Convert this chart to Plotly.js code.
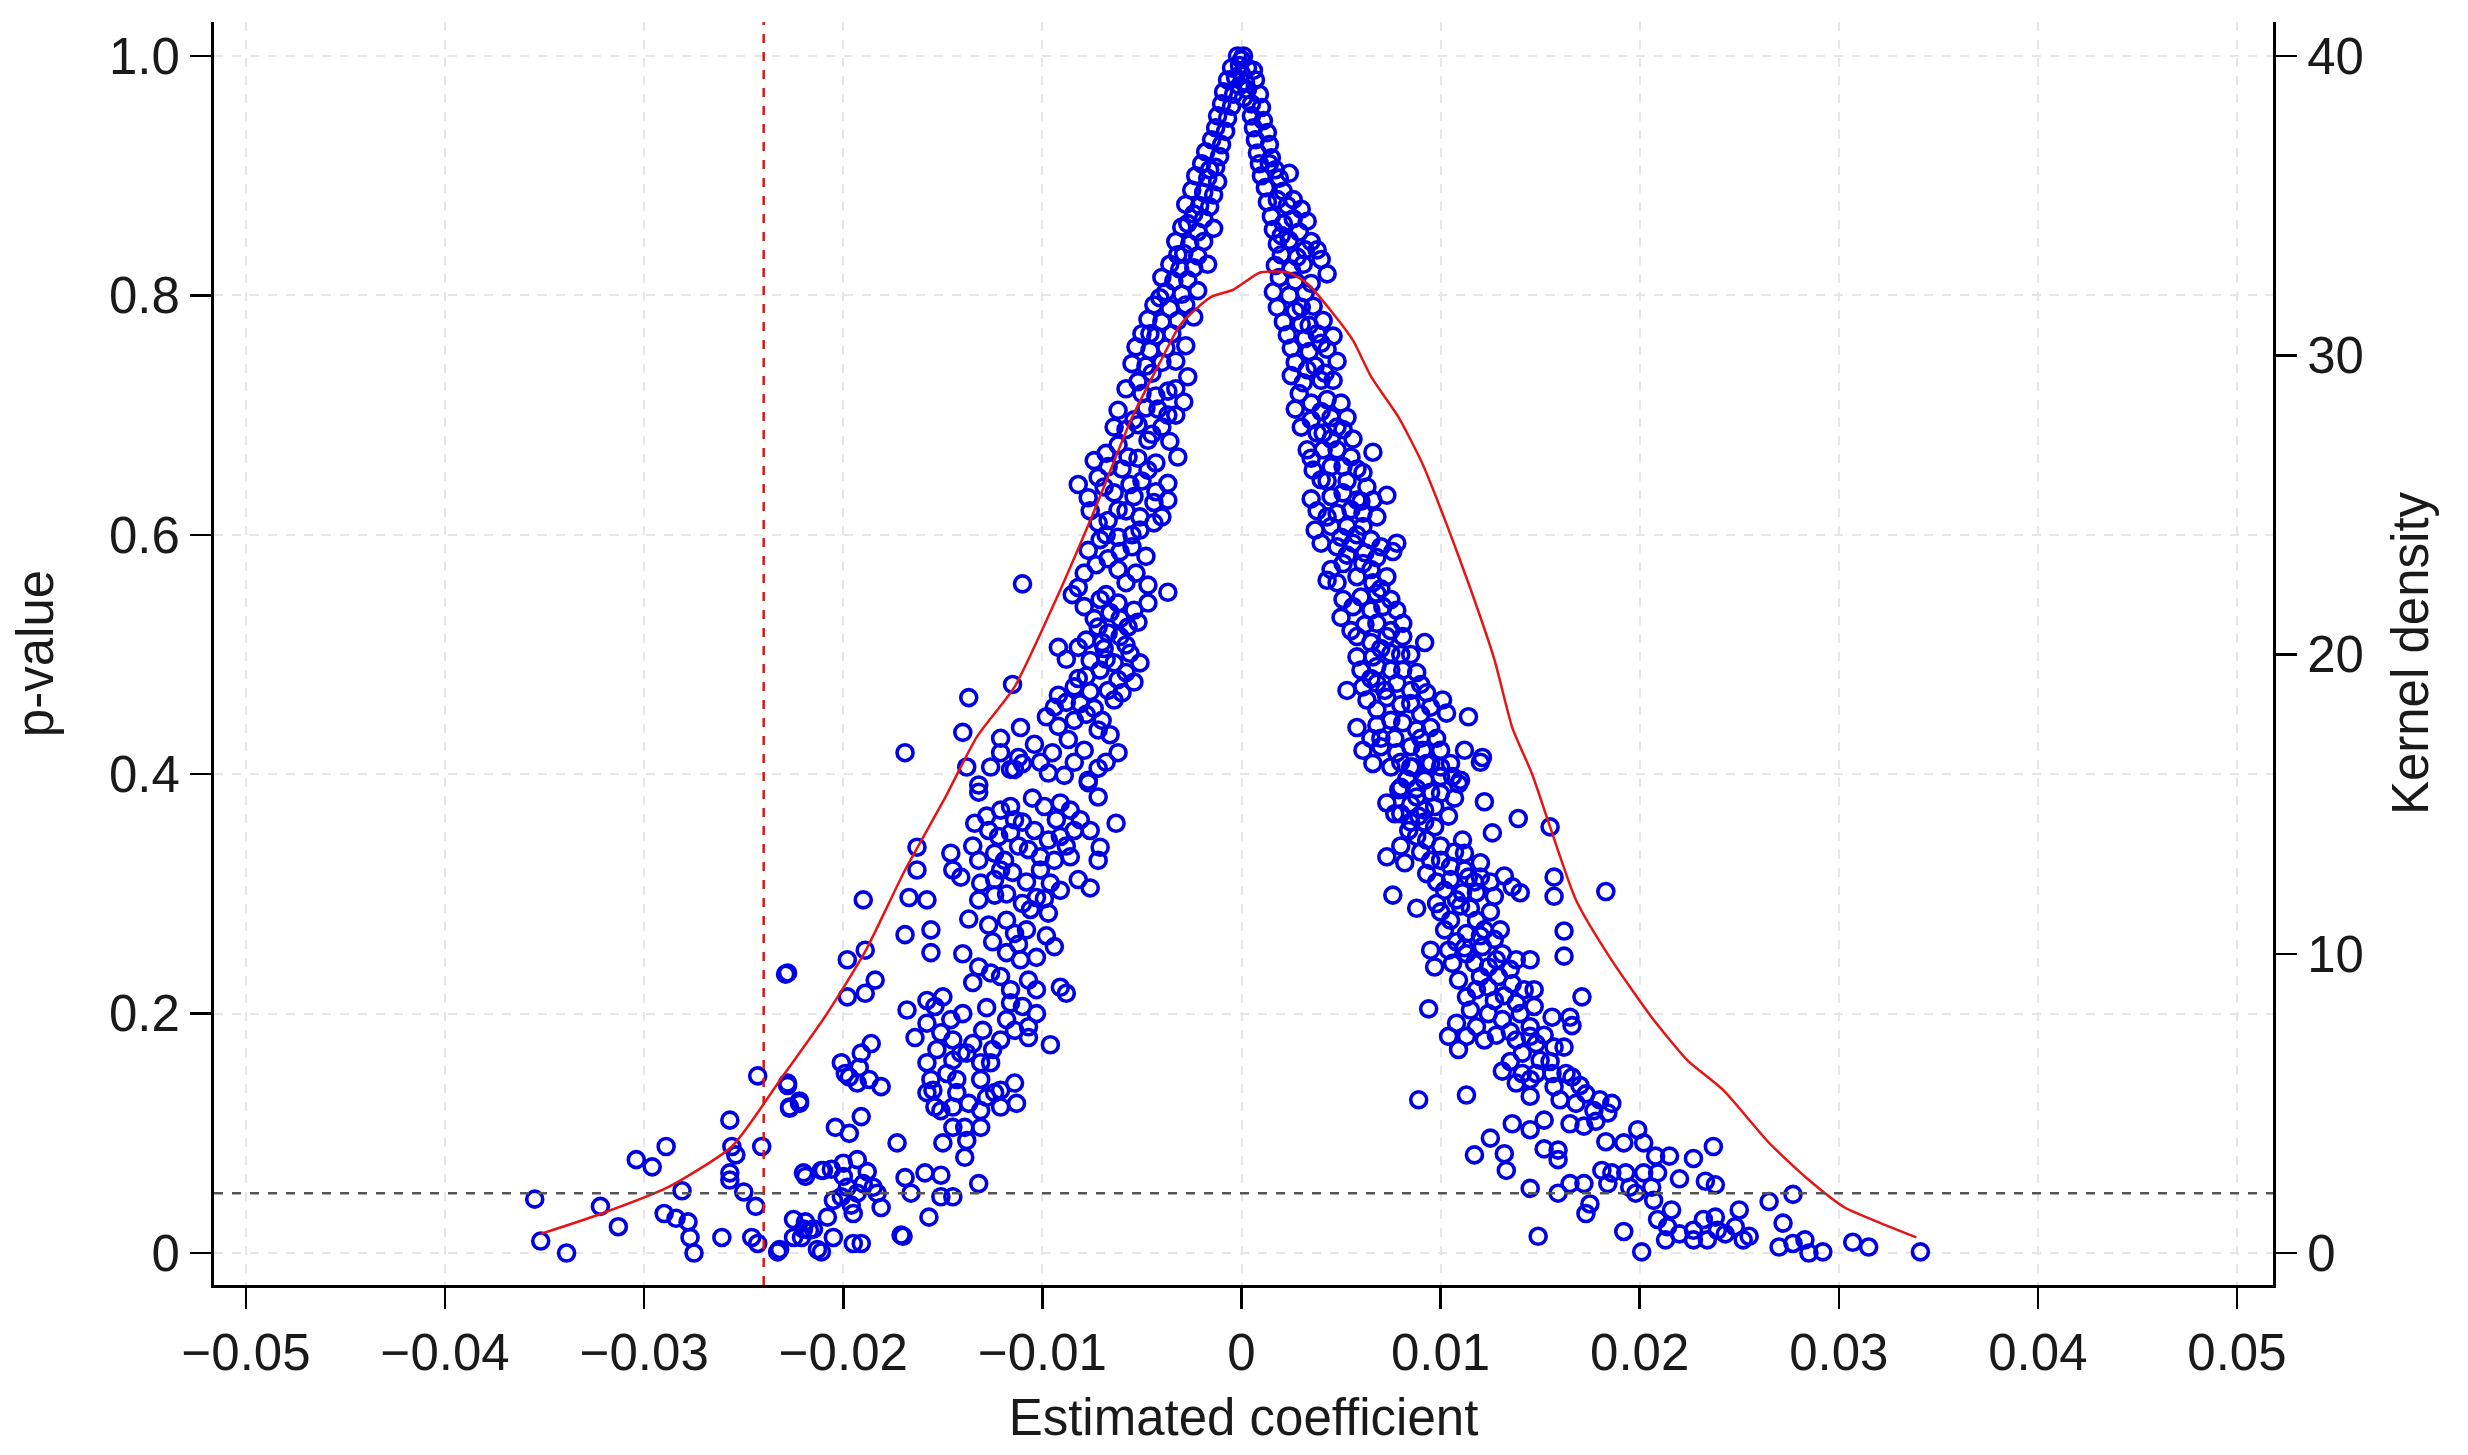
<!DOCTYPE html>
<html>
<head>
<meta charset="utf-8">
<script src="https://cdn.plot.ly/plotly-3.0.1.min.js"></script>
<style>
  html, body { margin: 0; padding: 0; background: #fff; }
  #myDiv { width: 2468px; height: 1455px; }
</style>
</head>
<body>
<div id="myDiv"></div>
<script>
// estimated coefficient / p-value pairs
let peakPoints = [
  [-0.0002, 1.0], [0.0001, 1.0], [0.0000, 0.997], [0.0000, 0.985], [-0.0001, 0.975], [0.0001, 0.965],
  [-0.0005, 0.99], [-0.0001, 0.992], [0.0003, 0.99], [0.0006, 0.988],
  [-0.0007, 0.98], [-0.0003, 0.982], [0.0002, 0.978], [0.0007, 0.98],
  [-0.0009, 0.97], [-0.0004, 0.968], [0.0003, 0.972], [0.0009, 0.968],
  [-0.0010, 0.96], [-0.0005, 0.958], [0.0005, 0.96], [0.0010, 0.957],
  [-0.0012, 0.95], [-0.0007, 0.948], [0.0005, 0.95], [0.0011, 0.946],
  [-0.0013, 0.94], [-0.0008, 0.937], [0.0006, 0.94], [0.0013, 0.936],
  [-0.0015, 0.93], [-0.0010, 0.926], [0.0007, 0.93], [0.0014, 0.926],
  [-0.0018, 0.92], [-0.0011, 0.916], [0.0008, 0.919], [0.0015, 0.915],
  [-0.0020, 0.91], [-0.0013, 0.907], [0.0009, 0.91], [0.0017, 0.905],
  [-0.0023, 0.90], [-0.0017, 0.898], [-0.0012, 0.895], [0.0010, 0.9], [0.0019, 0.898], [0.0024, 0.902],
  [-0.0025, 0.888], [-0.0019, 0.886], [-0.0014, 0.884], [0.0012, 0.89], [0.0021, 0.887], [0.0026, 0.88],
  [-0.0028, 0.876], [-0.0016, 0.874], [0.0013, 0.878], [0.0023, 0.875], [0.0030, 0.872],
  [-0.0024, 0.868], [-0.0019, 0.864], [0.0015, 0.866], [0.0026, 0.864], [0.0033, 0.862],
  [-0.0030, 0.857], [-0.0022, 0.853], [-0.0014, 0.856], [0.0016, 0.855], [0.0020, 0.85], [0.0029, 0.853],
  [-0.0033, 0.845], [-0.0026, 0.843], [-0.0019, 0.845], [0.0018, 0.843], [0.0024, 0.846], [0.0035, 0.845],
  [-0.0029, 0.835], [-0.0022, 0.833], [0.0020, 0.834], [0.0028, 0.832], [0.0038, 0.838],
  [-0.0036, 0.826], [-0.0031, 0.822], [-0.0024, 0.823], [-0.0017, 0.826], [0.0017, 0.825], [0.0025, 0.822], [0.0031, 0.826],
  [-0.0040, 0.815], [-0.0034, 0.812], [-0.0027, 0.813], [0.0019, 0.815], [0.0027, 0.812], [0.0035, 0.81], [0.0043, 0.818],
  [-0.0038, 0.803], [-0.0030, 0.801], [-0.0022, 0.804], [0.0016, 0.803], [0.0024, 0.8], [0.0032, 0.802],
  [-0.0044, 0.792], [-0.0036, 0.789], [-0.0028, 0.792], [0.0018, 0.79], [0.0027, 0.787], [0.0036, 0.791],
  [-0.0047, 0.78], [-0.0040, 0.778], [-0.0032, 0.779], [-0.0024, 0.782], [0.0021, 0.778], [0.0030, 0.776], [0.0041, 0.779],
  [-0.0050, 0.768], [-0.0043, 0.766], [-0.0035, 0.768], [0.0023, 0.767], [0.0032, 0.764], [0.0038, 0.768], [0.0046, 0.766],
  [-0.0053, 0.757], [-0.0046, 0.754], [-0.0038, 0.756], [-0.0028, 0.758], [0.0025, 0.756], [0.0034, 0.753], [0.0043, 0.755],
  [-0.0055, 0.743], [-0.0048, 0.741], [-0.0040, 0.744], [-0.0033, 0.745], [0.0027, 0.744], [0.0037, 0.741], [0.0048, 0.745],
  [-0.0016, 0.905], [-0.0021, 0.875], [-0.0027, 0.86], [-0.0032, 0.834], [-0.0041, 0.798], [-0.0046, 0.768],
  [0.0014, 0.91], [0.0018, 0.88], [0.0021, 0.86], [0.0032, 0.838], [0.0040, 0.83], [0.0030, 0.79],
  [0.0034, 0.775], [0.0040, 0.76]
];

let leftPoints = [
  [-0.0052, 0.728], [-0.0027, 0.732], [-0.0029, 0.711], [-0.0037, 0.72], [-0.0037, 0.70], [-0.0062, 0.704],
  [-0.0054, 0.696], [-0.0062, 0.675], [-0.0047, 0.679], [-0.0032, 0.665], [-0.0074, 0.662], [-0.0067, 0.657],
  [-0.0082, 0.642], [-0.0077, 0.631], [-0.0047, 0.654], [-0.0037, 0.643], [-0.0064, 0.635], [-0.0054, 0.632],
  [-0.0044, 0.627], [-0.0051, 0.615], [-0.0062, 0.621], [-0.0037, 0.629], [-0.0044, 0.61], [-0.0051, 0.604],
  [-0.0072, 0.61], [-0.0077, 0.587], [-0.0071, 0.596], [-0.0061, 0.586], [-0.0062, 0.571], [-0.0079, 0.568],
  [-0.0082, 0.556], [-0.0110, 0.559], [-0.0047, 0.558], [-0.0037, 0.552], [-0.0071, 0.546], [-0.0062, 0.543],
  [-0.0079, 0.54], [-0.0054, 0.537], [-0.0047, 0.543], [-0.0061, 0.53], [-0.0072, 0.523], [-0.0052, 0.527],
  [-0.0067, 0.518], [-0.0061, 0.515], [-0.0092, 0.506], [-0.0082, 0.506], [-0.0069, 0.505], [-0.0056, 0.501],
  [-0.0076, 0.495], [-0.0064, 0.493], [-0.0051, 0.493], [-0.0071, 0.487], [-0.0062, 0.479], [-0.0054, 0.477],
  [-0.0067, 0.47], [-0.0064, 0.462], [-0.0115, 0.475], [-0.0137, 0.464], [-0.0092, 0.466], [-0.0084, 0.473],
  [-0.0076, 0.469], [-0.0094, 0.456], [-0.0081, 0.459], [-0.0084, 0.445], [-0.0140, 0.435], [-0.0111, 0.439],
  [-0.0121, 0.43], [-0.0072, 0.437], [-0.0066, 0.433], [-0.0087, 0.429], [-0.0079, 0.42], [-0.0062, 0.418],
  [-0.0121, 0.418], [-0.0112, 0.414], [-0.0114, 0.404], [-0.0126, 0.406], [-0.0138, 0.406], [-0.0169, 0.418],
  [-0.0097, 0.401], [-0.0089, 0.399], [-0.0077, 0.395], [-0.0132, 0.391],
  [-0.0043, 0.716], [-0.0033, 0.722], [-0.0048, 0.706], [-0.0040, 0.69], [-0.0058, 0.688], [-0.0057, 0.665],
  [-0.0050, 0.645], [-0.0069, 0.64], [-0.0058, 0.62], [-0.0068, 0.6], [-0.0055, 0.59], [-0.0058, 0.56],
  [-0.0068, 0.55], [-0.0058, 0.508], [-0.0070, 0.51], [-0.0082, 0.48], [-0.0058, 0.485], [-0.0074, 0.455],
  [-0.0070, 0.445], [-0.0101, 0.41], [-0.0068, 0.41],
  [-0.0045, 0.735], [-0.0058, 0.722], [-0.0050, 0.718], [-0.0042, 0.705], [-0.0033, 0.70], [-0.0052, 0.692],
  [-0.0045, 0.684], [-0.0036, 0.678], [-0.0064, 0.69], [-0.0068, 0.668], [-0.0052, 0.664], [-0.0043, 0.66],
  [-0.0060, 0.655], [-0.0072, 0.648], [-0.0056, 0.642], [-0.0043, 0.636], [-0.0076, 0.62], [-0.0067, 0.612],
  [-0.0040, 0.615], [-0.0055, 0.60], [-0.0062, 0.598], [-0.0048, 0.582], [-0.0067, 0.58], [-0.0073, 0.575],
  [-0.0053, 0.568], [-0.0085, 0.55], [-0.0066, 0.535], [-0.0074, 0.53], [-0.0057, 0.523], [-0.0078, 0.512],
  [-0.0088, 0.496], [-0.0068, 0.496], [-0.0060, 0.468], [-0.0078, 0.482], [-0.0088, 0.46], [-0.0098, 0.448],
  [-0.0078, 0.45], [-0.0092, 0.44], [-0.0104, 0.425], [-0.0095, 0.418], [-0.0084, 0.41], [-0.0072, 0.405]
];

let leftLowPoints = [
  [-0.0116, 0.404], [-0.0110, 0.409], [-0.0132, 0.385], [-0.0077, 0.393], [-0.0072, 0.381], [-0.0116, 0.373],
  [-0.0121, 0.37], [-0.0114, 0.362], [-0.0099, 0.373], [-0.0091, 0.376], [-0.0086, 0.37], [-0.0081, 0.362],
  [-0.0076, 0.353], [-0.0063, 0.359], [-0.0134, 0.359], [-0.0127, 0.353], [-0.0122, 0.348], [-0.0116, 0.351],
  [-0.0104, 0.353], [-0.0097, 0.345], [-0.0091, 0.348], [-0.0084, 0.353], [-0.0071, 0.339], [-0.0072, 0.328],
  [-0.0163, 0.339], [-0.0163, 0.32], [-0.0146, 0.334], [-0.0145, 0.32], [-0.0132, 0.328], [-0.0124, 0.334],
  [-0.0119, 0.328], [-0.0107, 0.337], [-0.0101, 0.331], [-0.0094, 0.328], [-0.0086, 0.331], [-0.0141, 0.314],
  [-0.0131, 0.309], [-0.0124, 0.312], [-0.0121, 0.32], [-0.0101, 0.32], [-0.0096, 0.309], [-0.0091, 0.303],
  [-0.0082, 0.312], [-0.0076, 0.305], [-0.0124, 0.299], [-0.0190, 0.295], [-0.0167, 0.297], [-0.0158, 0.295],
  [-0.0110, 0.292], [-0.0103, 0.297], [-0.0097, 0.284], [-0.0106, 0.287], [-0.0137, 0.279], [-0.0127, 0.274],
  [-0.0118, 0.278], [-0.0114, 0.267], [-0.0169, 0.266], [-0.0156, 0.27], [-0.0156, 0.251], [-0.0189, 0.253],
  [-0.0198, 0.245], [-0.0228, 0.234], [-0.0184, 0.228], [-0.0189, 0.217], [-0.0198, 0.214], [-0.0132, 0.239],
  [-0.0126, 0.234], [-0.0118, 0.251], [-0.0111, 0.245], [-0.0103, 0.247], [-0.0094, 0.256], [-0.0135, 0.226],
  [-0.0121, 0.231], [-0.0116, 0.22], [-0.0107, 0.228], [-0.0103, 0.22], [-0.0091, 0.222], [-0.0088, 0.217],
  [-0.0116, 0.209], [-0.0110, 0.206], [-0.0103, 0.2], [-0.0150, 0.214], [-0.0168, 0.203], [-0.0158, 0.211],
  [-0.0154, 0.206], [-0.0158, 0.192], [-0.0164, 0.18], [-0.0130, 0.186], [-0.0121, 0.178], [-0.0114, 0.186],
  [-0.0107, 0.189], [-0.0107, 0.18], [-0.0096, 0.174], [-0.0151, 0.184], [-0.0146, 0.195], [-0.0153, 0.17],
  [-0.0141, 0.167], [-0.0138, 0.167], [-0.0131, 0.159], [-0.0126, 0.159], [-0.0145, 0.161], [-0.0186, 0.175],
  [-0.0191, 0.167], [-0.0201, 0.159], [-0.0197, 0.147], [-0.0193, 0.142], [-0.0187, 0.145], [-0.0181, 0.139],
  [-0.0199, 0.15], [-0.0228, 0.142], [-0.0227, 0.122], [-0.0222, 0.125], [-0.0158, 0.159], [-0.0156, 0.145],
  [-0.0158, 0.134], [-0.0155, 0.136], [-0.0154, 0.122], [-0.0151, 0.119], [-0.0145, 0.122], [-0.0143, 0.134],
  [-0.0143, 0.145], [-0.0131, 0.145], [-0.0124, 0.134], [-0.0121, 0.136], [-0.0114, 0.142], [-0.0113, 0.125],
  [-0.0121, 0.122], [-0.0131, 0.119], [-0.0131, 0.105], [-0.0145, 0.105], [-0.0139, 0.105], [-0.0138, 0.094],
  [-0.0150, 0.092], [-0.0139, 0.08], [-0.0204, 0.105], [-0.0197, 0.1], [-0.0191, 0.114], [-0.0173, 0.092],
  [-0.0220, 0.067], [-0.0210, 0.069], [-0.0200, 0.075], [-0.0193, 0.078], [-0.0200, 0.064], [-0.0198, 0.055],
  [-0.0190, 0.058], [-0.0185, 0.055], [-0.0201, 0.047], [-0.0193, 0.05], [-0.0183, 0.05], [-0.0181, 0.038],
  [-0.0195, 0.033], [-0.0205, 0.044], [-0.0169, 0.063], [-0.0159, 0.067], [-0.0151, 0.065], [-0.0166, 0.05],
  [-0.0151, 0.047], [-0.0145, 0.047], [-0.0132, 0.058], [-0.0157, 0.03], [-0.0171, 0.015],
  [-0.0225, 0.028], [-0.0225, 0.013], [-0.0217, 0.019], [-0.0213, 0.003], [-0.0205, 0.013], [-0.0195, 0.008],
  [-0.0191, 0.008], [-0.0232, 0.003],
  [-0.0355, 0.045], [-0.0352, 0.01], [-0.0339, 0.0], [-0.0322, 0.039], [-0.0313, 0.022], [-0.0304, 0.078],
  [-0.0296, 0.072], [-0.0289, 0.089], [-0.0290, 0.033], [-0.0284, 0.029], [-0.0281, 0.052], [-0.0278, 0.026],
  [-0.0277, 0.013], [-0.0275, 0.0], [-0.0261, 0.013], [-0.0257, 0.111], [-0.0257, 0.067], [-0.0257, 0.061],
  [-0.0254, 0.082], [-0.0256, 0.089], [-0.0250, 0.051], [-0.0246, 0.013], [-0.0244, 0.039], [-0.0243, 0.008],
  [-0.0243, 0.148], [-0.0241, 0.089], [-0.0233, 0.001], [-0.0229, 0.233], [-0.0228, 0.14], [-0.0227, 0.121],
  [-0.0222, 0.127], [-0.0221, 0.013], [-0.0219, 0.026], [-0.0215, 0.02], [-0.0211, 0.001], [-0.0219, 0.064],
  [-0.0211, 0.069], [-0.0170, 0.014],
  [-0.0105, 0.38], [-0.0093, 0.362], [-0.0110, 0.36], [-0.0128, 0.365], [-0.0112, 0.34], [-0.0088, 0.34],
  [-0.0135, 0.34], [-0.0115, 0.318], [-0.0108, 0.31], [-0.0132, 0.295], [-0.0118, 0.30], [-0.0099, 0.296],
  [-0.0108, 0.27], [-0.0125, 0.26], [-0.0112, 0.258], [-0.0098, 0.265], [-0.0140, 0.25], [-0.0128, 0.205],
  [-0.0118, 0.195], [-0.0140, 0.20], [-0.0145, 0.178], [-0.0135, 0.175], [-0.0125, 0.17], [-0.0148, 0.15],
  [-0.0137, 0.125], [-0.0128, 0.13], [-0.0192, 0.155], [-0.0206, 0.07], [-0.0188, 0.068], [-0.0196, 0.04],
  [-0.0220, 0.02], [-0.0208, 0.03]
];

let rightPoints = [
  [0.0025, 0.733], [0.0031, 0.727], [0.0040, 0.729], [0.0046, 0.729], [0.0035, 0.71], [0.0043, 0.713],
  [0.0050, 0.71], [0.0035, 0.696], [0.0045, 0.698], [0.0053, 0.698], [0.0038, 0.685], [0.0051, 0.688],
  [0.0033, 0.671], [0.0041, 0.671], [0.0048, 0.671], [0.0055, 0.665], [0.0066, 0.669], [0.0036, 0.654],
  [0.0045, 0.657], [0.0051, 0.657], [0.0061, 0.652], [0.0040, 0.646], [0.0045, 0.632], [0.0051, 0.635],
  [0.0058, 0.629], [0.0066, 0.629], [0.0073, 0.633], [0.0048, 0.618], [0.0055, 0.621], [0.0061, 0.618],
  [0.0037, 0.604], [0.0045, 0.607], [0.0053, 0.607], [0.0061, 0.607], [0.0040, 0.593], [0.0048, 0.59],
  [0.0056, 0.593], [0.0065, 0.596], [0.0070, 0.59], [0.0076, 0.586], [0.0078, 0.593], [0.0045, 0.571],
  [0.0051, 0.576], [0.0061, 0.576], [0.0068, 0.581], [0.0043, 0.562], [0.0058, 0.565], [0.0065, 0.571],
  [0.0073, 0.565], [0.0051, 0.546], [0.0060, 0.548], [0.0068, 0.551], [0.0075, 0.546], [0.0050, 0.531],
  [0.0065, 0.537], [0.0071, 0.54], [0.0078, 0.537], [0.0068, 0.526], [0.0081, 0.526], [0.0075, 0.52],
  [0.0058, 0.515], [0.0065, 0.51], [0.0073, 0.515], [0.0081, 0.515], [0.0092, 0.51], [0.0058, 0.498],
  [0.0066, 0.498], [0.0075, 0.501], [0.0060, 0.487], [0.0068, 0.49], [0.0075, 0.487], [0.0081, 0.487],
  [0.0088, 0.485], [0.0053, 0.47], [0.0061, 0.473], [0.0068, 0.476], [0.0078, 0.476], [0.0085, 0.47],
  [0.0093, 0.468], [0.0101, 0.462], [0.0063, 0.462], [0.0073, 0.464], [0.0085, 0.459], [0.0095, 0.456],
  [0.0068, 0.454], [0.0103, 0.451], [0.0114, 0.448], [0.0058, 0.439], [0.0068, 0.441], [0.0081, 0.443],
  [0.0088, 0.437], [0.0095, 0.439], [0.0061, 0.42], [0.0070, 0.423], [0.0078, 0.418], [0.0085, 0.423],
  [0.0091, 0.42], [0.0100, 0.42], [0.0066, 0.409], [0.0085, 0.406], [0.0095, 0.409], [0.0105, 0.409],
  [0.0121, 0.414], [0.0110, 0.395], [0.0080, 0.389], [0.0088, 0.388],
  [0.0029, 0.718], [0.0041, 0.685], [0.0056, 0.68], [0.0038, 0.62], [0.0070, 0.555], [0.0055, 0.52],
  [0.0085, 0.5], [0.0070, 0.43], [0.0077, 0.43],
  [0.0033, 0.738], [0.0042, 0.735], [0.0027, 0.705], [0.0040, 0.703], [0.0048, 0.69], [0.0030, 0.69],
  [0.0045, 0.68], [0.0035, 0.664], [0.0058, 0.655], [0.0043, 0.645], [0.0053, 0.645], [0.0063, 0.64],
  [0.0035, 0.63], [0.0060, 0.628], [0.0043, 0.615], [0.0068, 0.615], [0.0050, 0.598], [0.0058, 0.60],
  [0.0053, 0.583], [0.0062, 0.585], [0.0048, 0.56], [0.0066, 0.56], [0.0056, 0.54], [0.0062, 0.525],
  [0.0070, 0.505], [0.0080, 0.50], [0.0065, 0.48], [0.0072, 0.47], [0.0090, 0.475], [0.0080, 0.458],
  [0.0090, 0.45], [0.0075, 0.445], [0.0098, 0.43], [0.0065, 0.43], [0.0090, 0.43], [0.0080, 0.41],
  [0.0112, 0.42], [0.0100, 0.398]
];

let rightLowPoints = [
  [0.0075, 0.406], [0.0086, 0.406], [0.0093, 0.409], [0.0100, 0.406], [0.0106, 0.398], [0.0109, 0.392], [0.0120, 0.41],
  [0.0079, 0.387], [0.0088, 0.381], [0.0097, 0.373], [0.0100, 0.384], [0.0073, 0.376], [0.0080, 0.367],
  [0.0089, 0.365], [0.0097, 0.356], [0.0088, 0.348], [0.0093, 0.345], [0.0084, 0.353], [0.0077, 0.367],
  [0.0085, 0.375], [0.0092, 0.36], [0.0090, 0.335], [0.0098, 0.31], [0.0110, 0.29], [0.0125, 0.285],
  [0.0108, 0.26], [0.0130, 0.27], [0.0120, 0.265],
  [0.0122, 0.377], [0.0139, 0.363], [0.0155, 0.356], [0.0126, 0.351], [0.0111, 0.345], [0.0112, 0.334],
  [0.0073, 0.331], [0.0082, 0.326], [0.0093, 0.317], [0.0100, 0.328], [0.0105, 0.323], [0.0112, 0.32],
  [0.0120, 0.326], [0.0105, 0.312], [0.0114, 0.314], [0.0120, 0.314], [0.0102, 0.303], [0.0111, 0.301],
  [0.0118, 0.301], [0.0127, 0.298], [0.0136, 0.306], [0.0140, 0.301], [0.0076, 0.299], [0.0088, 0.288],
  [0.0098, 0.292], [0.0157, 0.314], [0.0157, 0.298], [0.0183, 0.302], [0.0162, 0.269], [0.0162, 0.248],
  [0.0105, 0.278], [0.0118, 0.278], [0.0102, 0.27], [0.0113, 0.267],
  [0.0095, 0.253], [0.0104, 0.253], [0.0113, 0.25], [0.0121, 0.256], [0.0127, 0.262], [0.0131, 0.25],
  [0.0138, 0.245], [0.0145, 0.245], [0.0097, 0.239], [0.0106, 0.242], [0.0117, 0.242], [0.0124, 0.239],
  [0.0109, 0.228], [0.0120, 0.231], [0.0129, 0.231], [0.0136, 0.225], [0.0142, 0.22], [0.0147, 0.22],
  [0.0113, 0.214], [0.0127, 0.211], [0.0138, 0.209], [0.0147, 0.206], [0.0171, 0.214], [0.0094, 0.204],
  [0.0115, 0.203], [0.0124, 0.2], [0.0131, 0.195], [0.0108, 0.192], [0.0118, 0.189], [0.0104, 0.181],
  [0.0113, 0.181], [0.0122, 0.178], [0.0109, 0.17], [0.0156, 0.197], [0.0165, 0.197], [0.0166, 0.19],
  [0.0145, 0.189], [0.0138, 0.178], [0.0145, 0.181], [0.0148, 0.175], [0.0157, 0.172], [0.0162, 0.172],
  [0.0141, 0.167], [0.0150, 0.161], [0.0131, 0.152], [0.0141, 0.15], [0.0148, 0.15], [0.0156, 0.15],
  [0.0163, 0.15], [0.0166, 0.147], [0.0138, 0.142], [0.0145, 0.145], [0.0157, 0.139], [0.0145, 0.131],
  [0.0173, 0.133], [0.0180, 0.128], [0.0186, 0.125], [0.0168, 0.125], [0.0177, 0.119], [0.0184, 0.117],
  [0.0165, 0.108], [0.0172, 0.106], [0.0089, 0.128], [0.0113, 0.132], [0.0136, 0.108], [0.0145, 0.103],
  [0.0152, 0.111], [0.0125, 0.096], [0.0117, 0.082], [0.0132, 0.083], [0.0133, 0.069], [0.0152, 0.087],
  [0.0159, 0.086], [0.0159, 0.078], [0.0183, 0.093], [0.0199, 0.103], [0.0192, 0.092], [0.0202, 0.092],
  [0.0208, 0.081], [0.0215, 0.081], [0.0227, 0.079], [0.0237, 0.089], [0.0181, 0.069], [0.0186, 0.067],
  [0.0193, 0.067], [0.0202, 0.067], [0.0209, 0.067], [0.0184, 0.058], [0.0195, 0.055], [0.0206, 0.055],
  [0.0220, 0.062], [0.0233, 0.06], [0.0238, 0.057], [0.0165, 0.058], [0.0172, 0.058], [0.0159, 0.05],
  [0.0145, 0.054], [0.0175, 0.041], [0.0173, 0.033], [0.0198, 0.05], [0.0207, 0.044],
  [0.0216, 0.036], [0.0209, 0.028], [0.0214, 0.022], [0.0220, 0.016], [0.0227, 0.019], [0.0232, 0.028],
  [0.0238, 0.03], [0.0239, 0.019], [0.0248, 0.022], [0.0250, 0.036], [0.0252, 0.011], [0.0213, 0.011],
  [0.0227, 0.011], [0.0234, 0.011], [0.0243, 0.016], [0.0255, 0.014], [0.0149, 0.014], [0.0192, 0.018],
  [0.0201, 0.001], [0.0265, 0.043], [0.0277, 0.049], [0.0272, 0.025], [0.0270, 0.005], [0.0277, 0.008],
  [0.0283, 0.011], [0.0285, 0.0], [0.0292, 0.001], [0.0307, 0.009], [0.0315, 0.005], [0.0341, 0.001],
  [0.0092, 0.395], [0.0083, 0.396], [0.0095, 0.385], [0.0107, 0.38], [0.0092, 0.37], [0.0104, 0.365],
  [0.0085, 0.36], [0.0100, 0.34], [0.0107, 0.335], [0.0080, 0.34], [0.0095, 0.328], [0.0117, 0.31],
  [0.0108, 0.295], [0.0125, 0.31], [0.0132, 0.315], [0.0115, 0.288], [0.0100, 0.285], [0.0122, 0.27],
  [0.0112, 0.255], [0.0128, 0.245], [0.0135, 0.237], [0.0118, 0.22], [0.0132, 0.215], [0.0124, 0.222],
  [0.0140, 0.20], [0.0135, 0.185], [0.0128, 0.182], [0.0152, 0.182], [0.0155, 0.16], [0.0135, 0.16],
  [0.0170, 0.14], [0.0160, 0.128], [0.0178, 0.11]
];

// kernel density of the estimates (right axis)
let kdeX = [-0.0352, -0.0323, -0.0288, -0.0256, -0.0232, -0.0209, -0.0189, -0.0169, -0.0149, -0.0133,
  -0.0114, -0.0094, -0.0074, -0.0055, -0.0041, -0.0031, -0.0022, -0.0015, -0.0004, 0.0009, 0.0016,
  0.0024, 0.0033, 0.0046, 0.0056, 0.0065, 0.0079, 0.0091, 0.0103, 0.0115, 0.0127, 0.0136, 0.0146,
  0.0155, 0.0168, 0.0185, 0.0206, 0.0224, 0.0242, 0.0265, 0.0285, 0.0303, 0.0321, 0.0339];
let kdeY = [0.64, 1.28, 2.2, 3.56, 5.76, 7.92, 10.08, 12.8, 15.2, 17.24,
  18.92, 21.72, 24.8, 27.92, 29.76, 31.0, 31.6, 31.96, 32.2, 32.76, 32.8,
  32.76, 32.4, 31.4, 30.5, 29.3, 27.92, 26.36, 24.36, 22.2, 19.84, 17.56, 16.0,
  14.24, 11.8, 9.88, 7.88, 6.44, 5.44, 3.68, 2.44, 1.52, 1.0, 0.52];

let xTicks = [-0.05, -0.04, -0.03, -0.02, -0.01, 0, 0.01, 0.02, 0.03, 0.04, 0.05];
let xTickText = ["\u22120.05", "\u22120.04", "\u22120.03", "\u22120.02", "\u22120.01", "0", "0.01", "0.02", "0.03", "0.04", "0.05"];
let yTicks = [0, 0.2, 0.4, 0.6, 0.8, 1.0];
let yTickText = ["0", "0.2", "0.4", "0.6", "0.8", "1.0"];
let y2Ticks = [0, 10, 20, 30, 40];

let trueEffect = -0.024;   // red dashed line
let pCutoff = 0.05;        // grey dashed line

function drawChart() {
  let all = peakPoints.concat(leftPoints, leftLowPoints, rightPoints, rightLowPoints);

  let font = { family: "Liberation Sans, Arial, sans-serif", size: 51, color: "#1a1a1a" };

  let scatter = {
    x: all.map(p => p[0]),
    y: all.map(p => p[1]),
    mode: "markers",
    type: "scatter",
    marker: {
      symbol: "circle-open",
      size: 16,
      color: "rgb(0, 0, 228)",
      line: { width: 3.6, color: "rgb(0, 0, 228)" }
    },
    hoverinfo: "skip"
  };

  let kde = {
    x: kdeX,
    y: kdeY,
    yaxis: "y2",
    mode: "lines",
    type: "scatter",
    line: { color: "rgb(230, 20, 20)", width: 2.5, shape: "spline", smoothing: 0.6 },
    hoverinfo: "skip"
  };

  let axisBase = {
    showline: true,
    linecolor: "#000",
    linewidth: 3,
    ticks: "outside",
    ticklen: 21,
    tickwidth: 2.5,
    tickcolor: "#000",
    tickfont: font,
    zeroline: false,
    showgrid: true,
    gridcolor: "#e6e6e6",
    gridwidth: 2,
    griddash: "dash"
  };

  let layout = {
    width: 2468,
    height: 1455,
    margin: { l: 214, r: 195, t: 22, b: 170 },
    paper_bgcolor: "#fff",
    plot_bgcolor: "#fff",
    showlegend: false,
    font: font,
    xaxis: Object.assign({}, axisBase, {
      range: [-0.05161, 0.05181],
      tickmode: "array",
      tickvals: xTicks,
      ticktext: xTickText,
      title: { text: "Estimated coefficient", font: font, standoff: 20 }
    }),
    yaxis: Object.assign({}, axisBase, {
      range: [-0.0267, 1.0284],
      tickmode: "array",
      tickvals: yTicks,
      ticktext: yTickText,
      title: { text: "p-value", font: font, standoff: 40 }
    }),
    yaxis2: Object.assign({}, axisBase, {
      overlaying: "y",
      side: "right",
      showgrid: false,
      range: [-1.069, 41.14],
      tickmode: "array",
      tickvals: y2Ticks,
      title: { text: "Kernel density", font: font, standoff: 30 }
    }),
    shapes: [
      {
        type: "line", xref: "x", yref: "paper",
        x0: trueEffect, x1: trueEffect, y0: 0, y1: 1,
        line: { color: "rgb(215, 25, 25)", width: 2.5, dash: "dash" }
      },
      {
        type: "line", xref: "paper", yref: "y",
        x0: 0, x1: 1, y0: pCutoff, y1: pCutoff,
        line: { color: "#555", width: 2.5, dash: "dash" }
      }
    ]
  };

  Plotly.newPlot("myDiv", [scatter, kde], layout, { staticPlot: true });
}

drawChart();
</script>
</body>
</html>
